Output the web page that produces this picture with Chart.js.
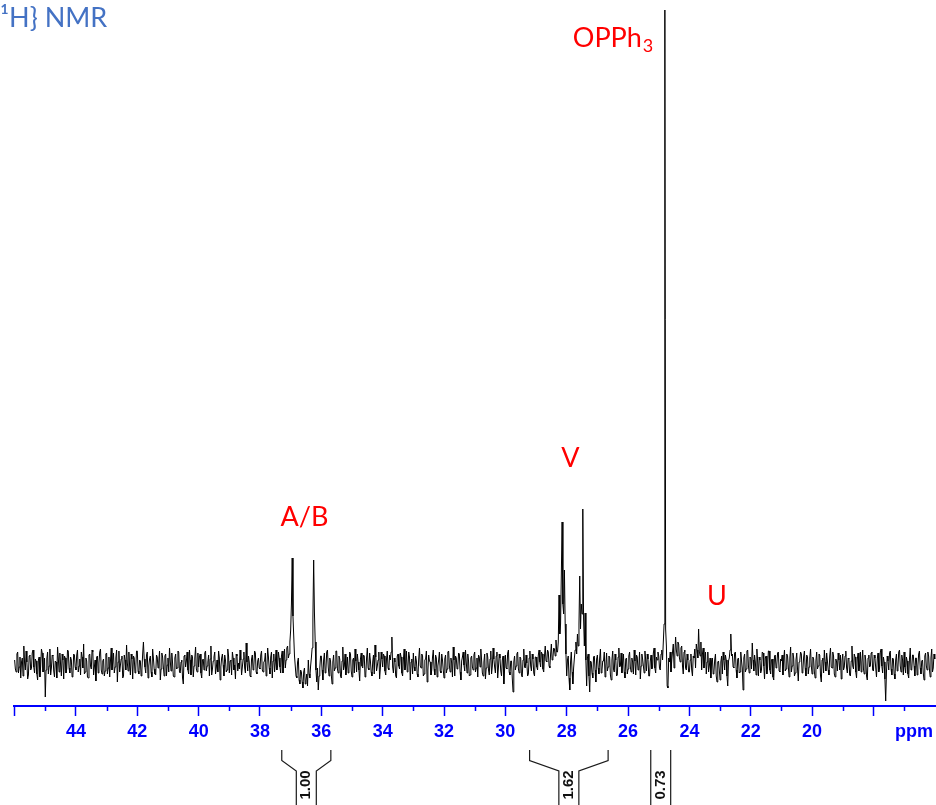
<!DOCTYPE html>
<html>
<head>
<meta charset="utf-8">
<script src="https://cdn.jsdelivr.net/npm/chart.js@4"></script>
<style>
  html, body { margin: 0; padding: 0; background: #ffffff; }
  #wrap { position: relative; width: 936px; height: 805px; }
  canvas { display: block; }
</style>
</head>
<body>
<div id="wrap"><canvas id="nmr" width="936" height="805"></canvas></div>
<script>
// 31P{1H} spectrum: intensity sampled every 0.025 ppm from 46.000 ppm down to 16.000 ppm
const ppmStart = 46.0;
const ppmStep = 0.025;
const intensity = [
  4,-5,-8,10,12,-9,-3,7,-14,2,6,-12,18,1,-6,13,2,-15,-11,8,9,-6,-4,11,14,-3,-9,5,3,-10,-16,4,7,-13,-2,15,11,-8,-7,6,          // 46
  -33,-6,5,12,-10,-2,15,-11,-4,9,8,-7,-13,3,2,-14,17,6,-8,11,-1,-12,10,4,-15,8,6,-9,-5,14,13,-4,-9,7,4,-13,-12,10,9,-3,      // 45
  -6,9,14,-8,-2,5,-11,12,7,-4,20,-10,-8,6,3,-13,-14,9,10,-2,-5,14,12,-11,-3,4,-17,7,8,-9,1,12,15,-6,-10,3,5,-12,-7,10,       // 44
  11,-10,-4,7,-13,3,16,-6,2,11,-9,-3,6,14,-18,2,13,-8,-1,5,8,-14,-12,9,4,-6,19,1,-7,12,-2,-11,10,5,-15,8,6,-9,-4,13,         // 43
  13,-7,-10,4,3,-12,-6,10,22,5,-3,-9,9,12,-14,-2,5,8,-8,-13,15,6,-5,-10,-11,9,7,-4,2,13,-16,-5,11,7,-3,-12,8,10,-12,-1,      // 42
  6,-8,16,3,-7,11,1,-12,-13,6,10,-5,-4,13,12,-8,-9,2,4,-14,-20,8,9,-3,3,12,-6,-10,14,4,-11,9,7,-13,-2,6,17,-5,-8,11,         // 41
  -3,7,10,-9,-14,4,5,-6,11,13,-7,-2,2,9,-12,5,18,-11,-5,3,7,12,-10,-4,4,-8,13,6,-16,-3,6,10,-1,-12,9,4,-8,-6,15,8,           // 40
  -9,3,4,-11,12,6,-6,-1,-15,10,8,-7,1,-5,14,4,-11,-3,5,12,-4,-9,21,2,-7,8,2,-12,-13,5,9,-6,-2,13,11,-8,-10,3,6,-4,           // 39
  -5,9,13,-6,-8,2,3,11,-12,-4,16,7,-4,-10,7,12,-14,3,10,-8,1,14,-6,-2,12,6,-3,-9,8,13,-9,2,15,-4,4,16,18,6,10,22,            // 38
  34,60,106,48,28,8,-2,-12,-14,2,6,-16,-20,-6,-8,-18,-24,-8,-4,-20,-16,-10,-22,4,-10,-14,-2,6,16,45,104,52,22,-6,-18,-4,-26,-12,-4,8, // 37  (A/B)
  8,-6,-16,4,11,-9,-6,12,14,-3,-12,6,3,-11,-20,2,9,-7,-4,13,13,-5,-9,8,5,-12,-14,3,17,-6,-2,10,-11,-3,7,-9,-5,12,10,-7,      // 36
  -13,4,6,-9,15,3,-8,10,2,-6,-17,5,11,-2,-4,9,8,-13,-10,6,16,-4,-6,11,3,-8,-12,2,9,-10,19,7,-7,-2,4,12,-15,-4,12,5,         // 35
  -3,10,8,-7,-11,5,13,-4,-6,9,4,12,27,-3,-9,6,2,-12,-14,8,10,-2,-5,11,7,-9,-12,4,15,-6,-1,13,-8,-3,12,7,-16,2,5,-10,         // 34
  11,-3,-7,8,3,-10,-13,5,16,-2,-4,10,8,-12,-10,4,5,13,-18,-6,9,3,2,-11,-6,7,14,-5,-11,9,6,-13,-2,4,12,-7,-9,10,4,-6,         // 33
  -14,5,9,-9,-5,12,13,-2,-8,6,1,-13,17,4,-12,8,6,-5,-3,11,10,-8,-16,3,7,12,-1,-7,14,2,-9,10,3,-12,-11,6,8,-3,-6,9,           // 32
  12,-8,-4,6,-13,9,7,-3,15,4,-9,-12,2,10,-15,-4,11,7,-6,-11,5,13,-10,-2,16,5,-3,-9,8,12,-14,-3,10,6,-7,-12,4,8,-20,-5,       // 31
  9,-4,-5,11,14,-8,-11,3,3,-14,-28,2,8,-6,-2,10,12,-5,-9,7,6,-11,-13,4,15,-3,-4,9,1,-12,-10,6,13,-2,-7,10,5,-9,-12,7,        // 30
  7,-3,-6,9,14,2,-3,12,10,-5,-8,8,18,3,2,14,12,-2,-4,10,20,4,6,16,15,8,24,12,12,22,69,30,40,90,142,60,50,94,40,10,           // 29  (V)
  -12,4,8,-14,-26,2,12,-8,-20,-4,6,14,22,10,30,18,40,88,35,60,50,155,45,18,51,4,-22,6,10,-12,-28,3,2,-9,-14,7,8,-6,-18,5,    // 28  (V)
  9,-4,-10,6,15,-9,-6,3,3,12,-13,-2,11,-7,-3,8,7,-11,-16,4,13,-5,-8,10,4,-12,-11,7,16,-3,-2,11,-9,2,10,-8,-14,5,6,-10,       // 27
  -5,8,12,-3,-8,6,2,-10,14,3,-11,9,7,-6,-4,12,-15,-2,10,5,-2,-9,13,4,-7,10,5,-12,-12,3,9,-5,-3,11,16,-4,-9,7,4,12,           // 26
  8,-4,-6,10,14,4,22,40,654,35,18,-22,-24,6,2,12,-8,4,12,20,-4,9,27,14,8,22,20,6,2,16,18,-2,-10,12,14,-4,-6,10,4,-8,          // 25  (OPPh3)
  -8,4,10,-6,-12,8,6,15,-4,20,14,6,35,12,8,22,-6,10,16,-4,4,12,-10,2,12,-8,-2,6,-14,3,6,-10,-8,4,10,-12,-18,2,3,-6,          // 24  (U)
  -16,2,8,-10,12,4,-6,9,4,-12,-22,3,6,14,30,8,10,-3,-4,11,12,-6,-14,5,6,-9,-8,12,3,-4,-26,6,10,-8,-5,13,14,-2,-9,7,          // 23
  6,-5,21,4,-7,9,2,-11,15,3,-12,7,4,-9,-6,12,11,-2,-15,6,8,-10,-3,13,13,-6,-10,4,5,-13,-16,8,9,-4,-1,11,12,-7,-8,5,          // 22
  3,9,-11,4,14,-7,-5,10,8,-3,-13,6,17,-8,-2,11,6,-12,-9,4,11,-5,-17,2,4,12,10,-9,-6,7,13,-4,-12,9,7,-10,-3,6,15,-2,          // 21
  -10,7,5,-8,-14,3,12,-5,-2,10,9,-12,-18,4,6,-9,14,2,-7,11,3,-6,-11,8,16,-3,-4,12,8,-10,-13,5,2,-7,11,4,-6,9,-15,3,          // 20
  10,-6,-3,8,13,-4,-9,6,5,-11,-12,3,18,-2,-5,10,7,-8,-14,5,11,-7,-1,12,-8,2,14,-5,-10,9,4,-12,-16,6,9,-3,-2,11,12,-6,        // 19
  -7,9,6,-4,-13,5,11,-8,-4,12,15,-2,-9,7,2,-15,-37,-8,8,3,-6,11,13,-5,-11,6,5,-10,-15,4,10,-7,-3,12,14,-2,-8,9,4,-11,         // 18
  12,-3,-9,7,3,-10,-14,5,16,-6,-5,9,9,-2,-12,6,6,-11,-2,10,13,-4,-10,3,4,-9,-16,8,11,-2,-6,12,8,-5,-13,6,15,-8,-4,10,        // 17
  5                                                                                                                         // 16
];

// ppm axis
const ppmMin = 15.96;
const ppmMax = 46.02;
const majorTicks = [46, 44, 42, 40, 38, 36, 34, 32, 30, 28, 26, 24, 22, 20, 18];
const labeledTicks = [44, 42, 40, 38, 36, 34, 32, 30, 28, 26, 24, 22, 20];
const minorTicks = [45, 43, 41, 39, 37, 35, 33, 31, 29, 27, 25, 23, 21, 19, 17];
const axisUnit = 'ppm';

// integral regions (ppm) and their relative values
const integralFrom = [37.29, 29.21, 25.26];
const integralTo = [35.69, 26.65, 24.61];
const integralValues = ['1.00', '1.62', '0.73'];

// signal assignments, anchored at (ppm, intensity)
const peakLabels = ['A/B', 'V', 'OPPh₃', 'U'];
const peakLabelPpm = [36.55, 27.88, 26.49, 23.10];
const peakLabelHeight = [138, 197, 617, 59];

const titleText = '¹H} NMR';

const spectrum = intensity.map((v, i) => ({ x: +(ppmStart - i * ppmStep).toFixed(3), y: v }));

const SUBSCRIPTS = '₀₁₂₃₄₅₆₇₈₉';

function drawLabel(ctx, text, cx, baseY, size) {
  let main = '', sub = '';
  for (const ch of text) {
    const k = SUBSCRIPTS.indexOf(ch);
    if (k >= 0) sub += String(k); else main += ch;
  }
  ctx.font = size + 'px Lato, "Open Sans", sans-serif';
  const wMain = ctx.measureText(main).width;
  ctx.font = Math.round(size * 0.68) + 'px Lato, "Open Sans", sans-serif';
  const wSub = sub ? ctx.measureText(sub).width + 1 : 0;
  const x0 = cx - (wMain + wSub) / 2;
  ctx.textAlign = 'left';
  ctx.textBaseline = 'alphabetic';
  ctx.font = size + 'px Lato, "Open Sans", sans-serif';
  ctx.fillText(main, x0, baseY);
  if (sub) {
    ctx.font = Math.round(size * 0.68) + 'px Lato, "Open Sans", sans-serif';
    ctx.fillText(sub, x0 + wMain + 1, baseY + size * 0.2);
  }
}

const decor = {
  id: 'nmrDecor',
  afterDraw(chart) {
    const ctx = chart.ctx;
    const xs = chart.scales.x;
    const ys = chart.scales.y;
    const axisY = chart.chartArea.bottom;
    ctx.save();

    // minor ticks
    ctx.strokeStyle = '#0000ff';
    ctx.lineWidth = 1.5;
    ctx.beginPath();
    for (const v of minorTicks) {
      const px = Math.round(xs.getPixelForValue(v)) + 0.5;
      ctx.moveTo(px, axisY);
      ctx.lineTo(px, axisY + 5);
    }
    ctx.stroke();

    // unit label
    ctx.fillStyle = '#0000ff';
    ctx.font = 'bold 18px "Liberation Sans", Arial, sans-serif';
    ctx.textAlign = 'center';
    ctx.textBaseline = 'middle';
    ctx.fillText(axisUnit, 914, axisY + 26);

    // integrals
    const top = axisY + 44;
    const bottom = chart.height + 2;
    const half = 10;
    ctx.strokeStyle = '#1a1a1a';
    ctx.lineWidth = 1.2;
    integralValues.forEach((label, i) => {
      const xa = xs.getPixelForValue(integralFrom[i]);
      const xb = xs.getPixelForValue(integralTo[i]);
      const mid = (xa + xb) / 2;
      ctx.beginPath();
      if ((xb - xa) / 2 > half + 0.5) {
        ctx.moveTo(xa, top);
        ctx.lineTo(xa, top + 10.5);
        ctx.lineTo(mid - half, top + 21);
        ctx.lineTo(mid - half, bottom);
        ctx.moveTo(xb, top);
        ctx.lineTo(xb, top + 10.5);
        ctx.lineTo(mid + half, top + 21);
        ctx.lineTo(mid + half, bottom);
      } else {
        ctx.moveTo(xa, top);
        ctx.lineTo(xa, bottom);
        ctx.moveTo(xb, top);
        ctx.lineTo(xb, bottom);
      }
      ctx.stroke();
      ctx.save();
      ctx.translate(mid, top + 35);
      ctx.rotate(-Math.PI / 2);
      ctx.fillStyle = '#111111';
      ctx.font = 'bold 15px "Liberation Sans", Arial, sans-serif';
      ctx.textAlign = 'center';
      ctx.textBaseline = 'middle';
      ctx.fillText(label, 0, 0);
      ctx.restore();
    });

    // signal assignments
    ctx.fillStyle = '#ff0000';
    peakLabels.forEach((t, i) => {
      drawLabel(ctx, t, xs.getPixelForValue(peakLabelPpm[i]), ys.getPixelForValue(peakLabelHeight[i]), 27);
    });

    // heading
    ctx.fillStyle = '#4472c4';
    ctx.font = '27px Lato, "Open Sans", sans-serif';
    ctx.textAlign = 'left';
    ctx.textBaseline = 'alphabetic';
    ctx.fillText(titleText, 0, 27);

    ctx.restore();
  }
};

new Chart(document.getElementById('nmr'), {
  type: 'line',
  data: {
    datasets: [{
      data: spectrum,
      borderColor: '#000000',
      borderWidth: 1,
      pointRadius: 0,
      tension: 0,
      fill: false
    }]
  },
  options: {
    responsive: false,
    animation: false,
    layout: { padding: { left: 14, right: 0, top: 0, bottom: 0 } },
    plugins: { legend: { display: false }, tooltip: { enabled: false }, title: { display: false } },
    scales: {
      x: {
        type: 'linear',
        reverse: true,
        min: ppmMin,
        max: ppmMax,
        afterBuildTicks: (scale) => { scale.ticks = majorTicks.map(v => ({ value: v })); },
        afterFit: (scale) => { scale.height = 99; },
        border: { display: true, color: '#0000ff', width: 2 },
        grid: { display: true, drawOnChartArea: false, drawTicks: true, tickLength: 10, tickColor: '#0000ff', tickWidth: 1.5 },
        ticks: {
          autoSkip: false,
          maxRotation: 0,
          minRotation: 0,
          padding: 5,
          color: '#0000ff',
          font: { family: '"Liberation Sans", Arial, sans-serif', size: 18, weight: 'bold' },
          callback: (v) => labeledTicks.includes(v) ? String(v) : ''
        }
      },
      y: {
        display: false,
        min: -42,
        max: 664
      }
    }
  },
  plugins: [decor]
});
</script>
</body>
</html>
